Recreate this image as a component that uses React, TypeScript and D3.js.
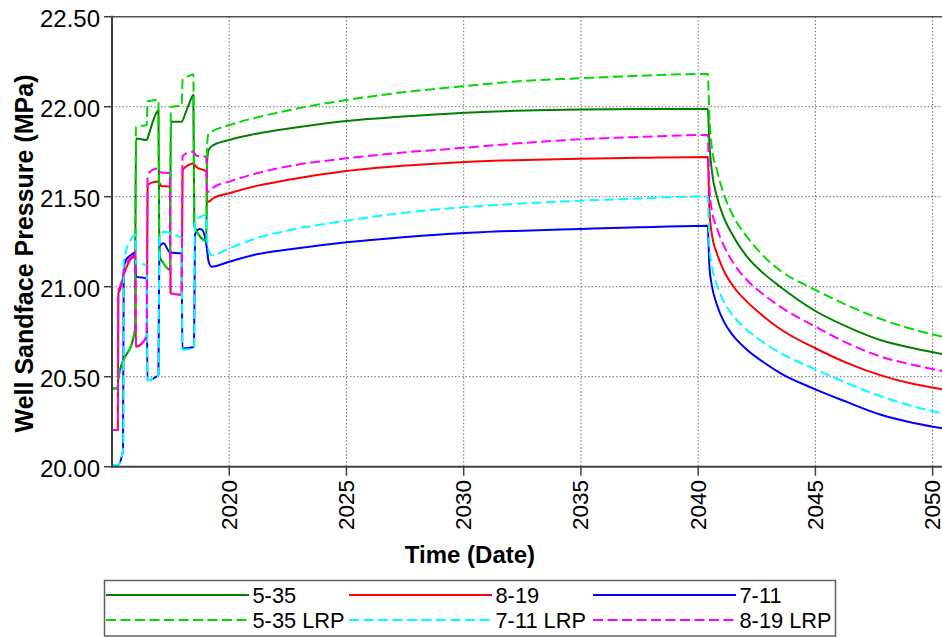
import React from "react";
import * as d3 from "d3";

type Pt = [number, number];

const yTicks = [20.0, 20.5, 21.0, 21.5, 22.0, 22.5];
const xTicks = [2020, 2025, 2030, 2035, 2040, 2045, 2050];

const well535: Pt[] = [
  [2015.0, 20.435], [2015.24, 20.435], [2015.27, 20.49], [2015.98, 20.76],
  [2016.02, 21.824], [2016.48, 21.815], [2016.58, 21.85], [2016.75, 21.92], [2016.98, 21.98],
  [2017.02, 21.17], [2017.2, 21.13], [2017.47, 21.093],
  [2017.51, 21.917], [2017.97, 21.917], [2018.15, 21.97], [2018.3, 22.02], [2018.47, 22.065],
  [2018.51, 21.34], [2018.75, 21.28], [2019.02, 21.255],
  [2019.06, 21.7], [2019.12, 21.76], [2019.3, 21.785], [2020.0, 21.815], [2021.17, 21.85],
  [2022.6, 21.88], [2025.0, 21.921], [2027.4, 21.945], [2029.85, 21.965], [2032.2, 21.977],
  [2035.0, 21.985], [2037.5, 21.987], [2040.41, 21.987],
  [2040.48, 21.797], [2040.58, 21.648], [2040.8, 21.5], [2041.08, 21.389], [2041.51, 21.278],
  [2042.08, 21.167], [2042.79, 21.074], [2043.5, 21.0], [2045.0, 20.865], [2046.34, 20.778],
  [2047.76, 20.704], [2049.19, 20.658], [2050.41, 20.626],
];

const well819: Pt[] = [
  [2015.0, 20.204], [2015.25, 20.204], [2015.27, 20.963], [2015.34, 20.982], [2015.48, 21.056],
  [2015.63, 21.111], [2015.77, 21.148], [2015.91, 21.167], [2015.99, 21.185],
  [2016.02, 20.667], [2016.48, 20.722],
  [2016.52, 21.565], [2016.75, 21.58], [2016.98, 21.584], [2017.1, 21.56], [2017.47, 21.556],
  [2017.5, 20.963], [2017.97, 20.955],
  [2018.01, 21.648], [2018.25, 21.675], [2018.47, 21.685], [2018.6, 21.665], [2019.02, 21.64],
  [2019.06, 21.48], [2019.12, 21.472], [2019.3, 21.49], [2020.0, 21.519], [2021.17, 21.56],
  [2022.6, 21.596], [2025.0, 21.643], [2027.4, 21.672], [2029.85, 21.692], [2032.2, 21.703],
  [2035.0, 21.711], [2037.5, 21.716], [2040.41, 21.721],
  [2040.48, 21.426], [2040.58, 21.296], [2040.8, 21.185], [2041.08, 21.093], [2041.51, 21.0],
  [2042.08, 20.917], [2042.79, 20.835], [2043.5, 20.765], [2045.0, 20.658], [2046.34, 20.577],
  [2047.76, 20.509], [2049.19, 20.459], [2050.41, 20.43],
];

const well711: Pt[] = [
  [2015.0, 20.01], [2015.25, 20.01], [2015.47, 20.09], [2015.5, 21.1], [2015.6, 21.15],
  [2015.8, 21.175], [2015.98, 21.19],
  [2016.02, 21.056], [2016.48, 21.046],
  [2016.51, 20.48], [2016.98, 20.51],
  [2017.02, 21.222], [2017.2, 21.241], [2017.47, 21.19], [2017.97, 21.185],
  [2018.0, 20.657], [2018.5, 20.665],
  [2018.54, 21.29], [2018.75, 21.32], [2018.85, 21.315], [2019.04, 21.22], [2019.12, 21.14],
  [2019.25, 21.111], [2020.0, 21.139], [2021.17, 21.18], [2022.6, 21.208], [2025.0, 21.247],
  [2027.4, 21.275], [2029.85, 21.297], [2032.2, 21.31], [2035.0, 21.321], [2037.5, 21.33],
  [2040.41, 21.339],
  [2040.48, 21.111], [2040.58, 21.01], [2040.8, 20.9], [2041.08, 20.81], [2041.51, 20.725],
  [2042.08, 20.65], [2042.79, 20.58], [2043.5, 20.52], [2045.0, 20.43], [2046.34, 20.36],
  [2047.76, 20.29], [2049.19, 20.243], [2050.41, 20.213],
];

const well535Lrp: Pt[] = [
  [2015.0, 20.435], [2015.24, 20.435], [2015.27, 20.49], [2015.98, 20.76],
  [2016.02, 21.889], [2016.48, 21.898], [2016.52, 22.03], [2016.75, 22.035], [2016.98, 22.04],
  [2017.02, 21.17], [2017.2, 21.13], [2017.47, 21.093],
  [2017.51, 22.0], [2017.97, 22.005], [2018.01, 22.15], [2018.3, 22.172], [2018.47, 22.18],
  [2018.51, 21.34], [2018.75, 21.28], [2019.02, 21.255],
  [2019.06, 21.8], [2019.12, 21.85], [2019.3, 21.865], [2020.0, 21.898], [2021.17, 21.94],
  [2022.6, 21.982], [2025.0, 22.037], [2027.4, 22.08], [2029.85, 22.112], [2032.2, 22.14],
  [2035.0, 22.158], [2037.5, 22.172], [2040.41, 22.182],
  [2040.48, 21.945], [2040.58, 21.778], [2040.8, 21.648], [2041.08, 21.519], [2041.51, 21.389],
  [2042.08, 21.278], [2042.79, 21.17], [2043.5, 21.09], [2045.0, 20.982], [2046.34, 20.898],
  [2047.76, 20.822], [2049.19, 20.762], [2050.41, 20.722],
];

const well711Lrp: Pt[] = [
  [2015.0, 20.01], [2015.25, 20.01], [2015.48, 20.1], [2015.5, 21.14], [2015.6, 21.2],
  [2015.75, 21.25], [2015.9, 21.28], [2015.99, 21.29],
  [2016.02, 21.13], [2016.48, 21.12],
  [2016.51, 20.48], [2016.98, 20.51],
  [2017.02, 21.287], [2017.25, 21.305], [2017.5, 21.295], [2017.97, 21.27],
  [2018.0, 20.65], [2018.5, 20.66],
  [2018.54, 21.37], [2018.8, 21.39], [2019.02, 21.4], [2019.08, 21.22], [2019.25, 21.176],
  [2020.0, 21.213], [2021.17, 21.27], [2022.6, 21.315], [2025.0, 21.367], [2027.4, 21.41],
  [2029.85, 21.44], [2032.2, 21.46], [2035.0, 21.478], [2037.5, 21.49], [2040.41, 21.502],
  [2040.48, 21.222], [2040.58, 21.12], [2040.8, 21.01], [2041.08, 20.92], [2041.51, 20.835],
  [2042.08, 20.76], [2042.79, 20.69], [2043.5, 20.632], [2045.0, 20.541], [2046.34, 20.465],
  [2047.76, 20.392], [2049.19, 20.335], [2050.41, 20.296],
];

const well819Lrp: Pt[] = [
  [2015.0, 20.204], [2015.25, 20.204], [2015.27, 20.98], [2015.34, 21.0], [2015.48, 21.07],
  [2015.63, 21.125], [2015.77, 21.16], [2015.91, 21.18], [2015.99, 21.2],
  [2016.02, 20.667], [2016.48, 20.722],
  [2016.52, 21.62], [2016.75, 21.65], [2016.98, 21.657], [2017.1, 21.635], [2017.47, 21.63],
  [2017.5, 20.963], [2017.97, 20.955],
  [2018.01, 21.725], [2018.25, 21.745], [2018.47, 21.75], [2018.6, 21.728], [2019.02, 21.722],
  [2019.06, 21.535], [2019.12, 21.528], [2019.3, 21.55], [2020.0, 21.584], [2021.17, 21.63],
  [2022.6, 21.671], [2025.0, 21.713], [2027.4, 21.745], [2029.85, 21.77], [2032.2, 21.795],
  [2035.0, 21.819], [2037.5, 21.832], [2040.41, 21.843],
  [2040.48, 21.556], [2040.58, 21.426], [2040.8, 21.324], [2041.08, 21.232], [2041.51, 21.13],
  [2042.08, 21.037], [2042.79, 20.956], [2043.5, 20.889], [2045.0, 20.778], [2046.34, 20.688],
  [2047.76, 20.613], [2049.19, 20.565], [2050.41, 20.532],
];

const seriesNames = ["5-35", "8-19", "7-11", "5-35 LRP", "7-11 LRP", "8-19 LRP"];
const seriesData = [well535, well819, well711, well535Lrp, well711Lrp, well819Lrp];
const seriesColors = ["#008000", "#FF0000", "#0000FF", "#00D800", "#00FFFF", "#FF00FF"];
const seriesDashed = [false, false, false, true, true, true];

const FONT = "'Liberation Sans', Arial, Helvetica, sans-serif";
const X0 = 112;
const X1 = 942;
const YB = 466.7;
const YT = 16.7;

export default function App() {
  const x = d3.scaleLinear().domain([2015.0, 2050.4]).range([X0, X1]);
  const y = d3.scaleLinear().domain([20, 22.5]).range([YB, YT]);
  const line = d3
    .line<Pt>()
    .x((d) => x(d[0]))
    .y((d) => y(d[1]))
    .curve(d3.curveMonotoneX);

  const legendCols = [106, 349, 593];
  const legendRows = [595, 620];
  const legendOrder = [
    [0, 1, 2],
    [3, 4, 5],
  ];

  return (
    <svg
      width={942}
      height={638}
      style={{ position: "absolute", left: 0, top: 0, background: "#fff" }}
      fontFamily={FONT}
    >
      <defs>
        <clipPath id="plotClip">
          <rect x={X0} y={YT - 2} width={X1 - X0} height={YB - YT + 4} />
        </clipPath>
      </defs>
      <rect x={0} y={0} width={942} height={638} fill="#fff" />

      {/* grid */}
      {xTicks.map((t) => (
        <line
          key={"gx" + t}
          x1={x(t)}
          x2={x(t)}
          y1={YT}
          y2={YB}
          stroke="#707070"
          strokeWidth={1}
          strokeDasharray="1.5,2"
        />
      ))}
      {yTicks
        .filter((t) => t > 20 && t < 22.5)
        .map((t) => (
          <line
            key={"gy" + t}
            x1={X0}
            x2={X1}
            y1={y(t)}
            y2={y(t)}
            stroke="#707070"
            strokeWidth={1}
            strokeDasharray="1.5,2"
          />
        ))}

      {/* series */}
      <g clipPath="url(#plotClip)">
        {seriesData.map((d, i) => (
          <path
            key={seriesNames[i]}
            d={line(d) || ""}
            fill="none"
            stroke={seriesColors[i]}
            strokeWidth={2}
            strokeDasharray={seriesDashed[i] ? "10,4.5" : undefined}
            strokeLinejoin="round"
          />
        ))}
      </g>

      {/* frame / axes */}
      <line x1={X0} x2={X1} y1={YT} y2={YT} stroke="#505050" strokeWidth={1.5} />
      <line x1={X0} x2={X0} y1={YT - 1} y2={YB + 1} stroke="#404040" strokeWidth={2} />
      <line x1={X0 - 1} x2={X1} y1={YB} y2={YB} stroke="#404040" strokeWidth={2} />

      {/* y ticks */}
      {yTicks.map((t) => (
        <g key={"yt" + t}>
          <line x1={X0 - 8} x2={X0} y1={y(t)} y2={y(t)} stroke="#404040" strokeWidth={1.5} />
          <text
            x={100}
            y={y(t) + 1.5}
            textAnchor="end"
            dominantBaseline="central"
            fontSize={24}
            fill="#000"
          >
            {t.toFixed(2)}
          </text>
        </g>
      ))}

      {/* x ticks */}
      {xTicks.map((t) => (
        <g key={"xt" + t}>
          <line x1={x(t)} x2={x(t)} y1={YB} y2={YB + 9} stroke="#404040" strokeWidth={1.5} />
          <text
            transform={`translate(${x(t)},480) rotate(-90)`}
            textAnchor="end"
            dominantBaseline="central"
            fontSize={22.5}
            fill="#000"
          >
            {t}
          </text>
        </g>
      ))}

      {/* axis titles */}
      <text
        transform="translate(33,253.5) rotate(-90)"
        textAnchor="middle"
        fontSize={25}
        fontWeight="bold"
        fill="#000"
      >
        Well Sandface Pressure (MPa)
      </text>
      <text x={470} y={563} textAnchor="middle" fontSize={24} fontWeight="bold" fill="#000">
        Time (Date)
      </text>

      {/* legend */}
      <rect
        x={104.5}
        y={580.5}
        width={731}
        height={55.5}
        fill="#fff"
        stroke="#606060"
        strokeWidth={1.5}
      />
      {legendOrder.map((row, ri) =>
        row.map((si, ci) => (
          <g key={"lg" + si}>
            <line
              x1={legendCols[ci]}
              x2={legendCols[ci] + 143}
              y1={legendRows[ri]}
              y2={legendRows[ri]}
              stroke={seriesColors[si]}
              strokeWidth={2}
              strokeDasharray={seriesDashed[si] ? "10,4.5" : undefined}
            />
            <text
              x={legendCols[ci] + 146.5}
              y={legendRows[ri] + 7.5}
              fontSize={21.8}
              fill="#000"
            >
              {seriesNames[si]}
            </text>
          </g>
        ))
      )}
    </svg>
  );
}
